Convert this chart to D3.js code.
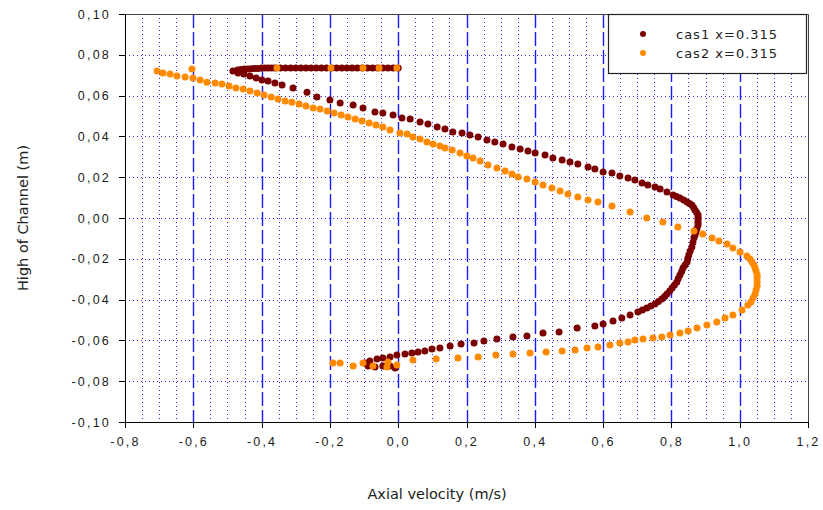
<!DOCTYPE html>
<meta charset="utf-8">
<style>
body { margin: 0; background: #fff; }
svg { display: block; font-family: "DejaVu Sans", sans-serif; }
.tick text { fill: #1a1a1a; font-size: 12.5px; letter-spacing: 2.2px; }
.axis path, .axis line { stroke: #000; shape-rendering: crispEdges; }
</style>
<body>
<script src="https://d3js.org/d3.v7.min.js"></script>
<script>

// tick values of both axes
var xTicks = [-0.8, -0.6, -0.4, -0.2, 0.0, 0.2, 0.4, 0.6, 0.8, 1.0, 1.2];
var yTicks = [-0.10, -0.08, -0.06, -0.04, -0.02, 0.00, 0.02, 0.04, 0.06, 0.08, 0.10];
// dotted minor vertical grid (every 0.05 between the majors)
var xMinor = [-0.75, -0.7, -0.65, -0.55, -0.5, -0.45, -0.35, -0.3, -0.25, -0.15, -0.1, -0.05,
              0.05, 0.1, 0.15, 0.25, 0.3, 0.35, 0.45, 0.5, 0.55, 0.65, 0.7, 0.75,
              0.85, 0.9, 0.95, 1.05, 1.1, 1.15];

var seriesNames = ["cas1 x=0.315", "cas2 x=0.315"];

// cas1 : [axial velocity (m/s), height (m)]
var cas1 = [
  [0.000, 0.0735], [-0.015, 0.0735], [-0.030, 0.0735], [-0.045, 0.0735], [-0.060, 0.0735],
  [-0.075, 0.0735], [-0.090, 0.0735], [-0.105, 0.0735], [-0.120, 0.0735], [-0.135, 0.0735],
  [-0.150, 0.0735], [-0.165, 0.0735], [-0.180, 0.0735], [-0.195, 0.0735], [-0.210, 0.0735],
  [-0.225, 0.0735], [-0.240, 0.0735], [-0.255, 0.0735], [-0.270, 0.0735], [-0.285, 0.0735],
  [-0.300, 0.0735], [-0.315, 0.0735], [-0.330, 0.0735], [-0.345, 0.0735], [-0.360, 0.0735],
  [-0.370, 0.0735], [-0.380, 0.0735], [-0.390, 0.0735], [-0.400, 0.0735], [-0.410, 0.0733],
  [-0.420, 0.0733], [-0.430, 0.0732], [-0.440, 0.0731], [-0.450, 0.0730], [-0.460, 0.0728],
  [-0.470, 0.0726], [-0.484, 0.0720], [-0.469, 0.0711], [-0.452, 0.0706], [-0.434, 0.0696],
  [-0.416, 0.0686], [-0.399, 0.0676], [-0.381, 0.0671], [-0.361, 0.0662], [-0.340, 0.0652],
  [-0.308, 0.0637], [-0.267, 0.0617], [-0.238, 0.0593], [-0.200, 0.0578], [-0.170, 0.0564],
  [-0.132, 0.0554], [-0.103, 0.0539], [-0.068, 0.0519], [-0.045, 0.0515], [-0.015, 0.0505],
  [0.011, 0.0490], [0.035, 0.0485], [0.064, 0.0470], [0.087, 0.0461], [0.114, 0.0446],
  [0.137, 0.0436], [0.160, 0.0421], [0.187, 0.0417], [0.210, 0.0407], [0.234, 0.0397],
  [0.260, 0.0382], [0.283, 0.0372], [0.307, 0.0363], [0.333, 0.0348], [0.357, 0.0338],
  [0.380, 0.0328], [0.401, 0.0319], [0.430, 0.0309], [0.453, 0.0294], [0.480, 0.0284],
  [0.503, 0.0274], [0.526, 0.0265], [0.556, 0.0250], [0.576, 0.0240], [0.600, 0.0225],
  [0.626, 0.0221], [0.649, 0.0206], [0.673, 0.0196], [0.693, 0.0186], [0.714, 0.0172],
  [0.731, 0.0162], [0.752, 0.0152], [0.767, 0.0142], [0.787, 0.0127], [0.805, 0.0113],
  [0.815, 0.0106], [0.825, 0.0098], [0.836, 0.0088], [0.846, 0.0078], [0.853, 0.0071],
  [0.860, 0.0064], [0.865, 0.0052], [0.869, 0.0039], [0.874, 0.0027], [0.878, 0.0015],
  [0.878, 0.0003], [0.878, -0.0010], [0.878, -0.0022], [0.878, -0.0034], [0.875, -0.0052],
  [0.872, -0.0069], [0.869, -0.0084], [0.866, -0.0098], [0.863, -0.0120], [0.860, -0.0142],
  [0.855, -0.0162], [0.851, -0.0181], [0.848, -0.0199], [0.846, -0.0216], [0.840, -0.0231],
  [0.834, -0.0245], [0.830, -0.0262], [0.825, -0.0279], [0.820, -0.0297], [0.816, -0.0314],
  [0.809, -0.0329], [0.802, -0.0343], [0.795, -0.0358], [0.787, -0.0372], [0.780, -0.0385],
  [0.772, -0.0397], [0.762, -0.0409], [0.752, -0.0421], [0.740, -0.0431], [0.728, -0.0441],
  [0.715, -0.0451], [0.702, -0.0461], [0.679, -0.0475], [0.655, -0.0490], [0.629, -0.0505],
  [0.600, -0.0520], [0.576, -0.0529], [0.524, -0.0539], [0.471, -0.0559], [0.424, -0.0564],
  [0.377, -0.0578], [0.336, -0.0583], [0.289, -0.0593], [0.251, -0.0603], [0.222, -0.0613],
  [0.184, -0.0618], [0.152, -0.0627], [0.122, -0.0637], [0.099, -0.0642], [0.078, -0.0652],
  [0.058, -0.0657], [0.040, -0.0662], [0.020, -0.0667], [-0.004, -0.0672], [-0.024, -0.0681],
  [-0.045, -0.0686], [-0.062, -0.0691], [-0.083, -0.0701], [-0.097, -0.0711], [-0.088, -0.0725],
  [-0.068, -0.0730], [-0.045, -0.0725], [-0.024, -0.0725], [-0.009, -0.0735]
];

// cas2 : [axial velocity (m/s), height (m)]
var cas2 = [
  [-0.604, 0.0730], [-0.355, 0.0735], [-0.197, 0.0735], [-0.103, 0.0735], [-0.056, 0.0735],
  [-0.004, 0.0735],
  [-0.706, 0.0720], [-0.689, 0.0711], [-0.668, 0.0706], [-0.648, 0.0696], [-0.624, 0.0691],
  [-0.601, 0.0686], [-0.580, 0.0676], [-0.560, 0.0666], [-0.536, 0.0662], [-0.516, 0.0657],
  [-0.495, 0.0647], [-0.475, 0.0637], [-0.454, 0.0632], [-0.434, 0.0622], [-0.413, 0.0613],
  [-0.393, 0.0603], [-0.372, 0.0593], [-0.352, 0.0583], [-0.331, 0.0573], [-0.311, 0.0568],
  [-0.290, 0.0559], [-0.270, 0.0549], [-0.249, 0.0539], [-0.229, 0.0534], [-0.208, 0.0524],
  [-0.188, 0.0515], [-0.167, 0.0505], [-0.147, 0.0495], [-0.126, 0.0485], [-0.106, 0.0475],
  [-0.085, 0.0466], [-0.065, 0.0456], [-0.045, 0.0446], [-0.024, 0.0431], [0.005, 0.0417],
  [0.026, 0.0412], [0.043, 0.0397], [0.064, 0.0387], [0.084, 0.0372], [0.102, 0.0363],
  [0.122, 0.0353], [0.137, 0.0343], [0.158, 0.0333], [0.181, 0.0319], [0.201, 0.0304],
  [0.219, 0.0294], [0.240, 0.0279], [0.263, 0.0260], [0.289, 0.0245], [0.313, 0.0230],
  [0.333, 0.0216], [0.351, 0.0201], [0.377, 0.0191], [0.401, 0.0176], [0.424, 0.0162],
  [0.450, 0.0147], [0.474, 0.0132], [0.497, 0.0118], [0.526, 0.0103], [0.556, 0.0088],
  [0.585, 0.0078], [0.626, 0.0059], [0.679, 0.0029], [0.728, 0.0000], [0.775, -0.0020],
  [0.819, -0.0044], [0.866, -0.0064], [0.892, -0.0078], [0.919, -0.0098], [0.939, -0.0113],
  [0.963, -0.0127], [0.980, -0.0147], [1.001, -0.0167], [1.021, -0.0186], [1.030, -0.0201],
  [1.036, -0.0216], [1.042, -0.0230], [1.045, -0.0245], [1.048, -0.0260], [1.051, -0.0279],
  [1.051, -0.0294], [1.051, -0.0314], [1.051, -0.0333], [1.048, -0.0353], [1.045, -0.0372],
  [1.039, -0.0392], [1.033, -0.0412], [1.024, -0.0426], [1.007, -0.0451], [0.980, -0.0475],
  [0.957, -0.0490], [0.933, -0.0510], [0.904, -0.0524], [0.875, -0.0539], [0.849, -0.0554],
  [0.825, -0.0564], [0.796, -0.0573], [0.772, -0.0583], [0.746, -0.0588], [0.717, -0.0593],
  [0.693, -0.0598], [0.673, -0.0608], [0.649, -0.0613], [0.620, -0.0622], [0.585, -0.0632],
  [0.553, -0.0637], [0.518, -0.0647], [0.480, -0.0652], [0.433, -0.0657], [0.386, -0.0662],
  [0.336, -0.0667], [0.286, -0.0672], [0.234, -0.0681], [0.175, -0.0686], [0.111, -0.0691],
  [0.043, -0.0696], [-0.004, -0.0720], [-0.030, -0.0706], [-0.033, -0.0730], [-0.074, -0.0725],
  [-0.103, -0.0711], [-0.132, -0.0725], [-0.170, -0.0711], [-0.191, -0.0711]
];

var colors = ["#7b0000", "#ff8a00"];

var width = 823, height = 510;
var plot = {left: 125, right: 808, top: 14, bottom: 422};

var svg = d3.select("body").append("svg")
    .attr("width", width)
    .attr("height", height);

var x = d3.scaleLinear().domain([-0.8, 1.2]).range([plot.left, plot.right]);
var y = d3.scaleLinear().domain([-0.1, 0.1]).range([plot.bottom, plot.top]);

// comma decimals, plain hyphen minus
var locale = d3.formatLocale({decimal: ",", thousands: ".", grouping: [3], currency: ["", ""], minus: "-"});

// grid
var grid = svg.append("g");
grid.selectAll(".minorx").data(xMinor).enter().append("line")
    .attr("x1", function(d) { return Math.round(x(d)) + 0.5; })
    .attr("x2", function(d) { return Math.round(x(d)) + 0.5; })
    .attr("y1", plot.top).attr("y2", plot.bottom)
    .attr("stroke", "#2b2bff").attr("stroke-width", 1)
    .attr("stroke-dasharray", "1,3");
grid.selectAll(".gridy").data(yTicks.slice(1, -1)).enter().append("line")
    .attr("x1", plot.left).attr("x2", plot.right)
    .attr("y1", function(d) { return Math.round(y(d)) + 0.5; })
    .attr("y2", function(d) { return Math.round(y(d)) + 0.5; })
    .attr("stroke", "#2b2bff").attr("stroke-width", 1)
    .attr("stroke-dasharray", "1,3");
grid.selectAll(".majorx").data(xTicks.slice(1, -1)).enter().append("line")
    .attr("x1", function(d) { return Math.round(x(d)) + 0.5; })
    .attr("x2", function(d) { return Math.round(x(d)) + 0.5; })
    .attr("y1", plot.top).attr("y2", plot.bottom)
    .attr("stroke", "#1a1aff").attr("stroke-width", 1.4)
    .attr("stroke-dasharray", "14,4");

// frame top / right
svg.append("path")
    .attr("d", "M" + plot.left + "," + (plot.top + 0.5) + "H" + (plot.right + 0.5) + "V" + plot.bottom)
    .attr("fill", "none").attr("stroke", "#444").attr("stroke-width", 1);

// points
var series = [cas1, cas2];
series.forEach(function(s, i) {
  svg.append("g").selectAll("circle").data(s).enter().append("circle")
     .attr("cx", function(d) { return x(d[0]); })
     .attr("cy", function(d) { return y(d[1]); })
     .attr("r", 3.5)
     .attr("fill", colors[i]);
});

// axes
var xAxis = d3.axisBottom(x).tickValues(xTicks).tickSize(6).tickPadding(9)
    .tickFormat(locale.format(".1f"));
var yAxis = d3.axisLeft(y).tickValues(yTicks).tickSize(6).tickPadding(8)
    .tickFormat(locale.format(".2f"));

svg.append("g").attr("class", "axis")
   .attr("transform", "translate(0," + plot.bottom + ")")
   .call(xAxis)
   .call(function(g) { g.select(".domain").attr("d", "M" + (plot.left - 3) + ",0.5H" + plot.right); });

svg.append("g").attr("class", "axis")
   .attr("transform", "translate(" + plot.left + ",0)")
   .call(yAxis)
   .call(function(g) { g.select(".domain").attr("d", "M0.5," + plot.top + "V" + (plot.bottom + 2)); });

// axis titles
svg.append("text")
   .attr("x", 437).attr("y", 499)
   .attr("text-anchor", "middle")
   .attr("font-size", "14.5px").attr("fill", "#222")
   .text("Axial velocity (m/s)");

svg.append("text")
   .attr("transform", "translate(28,218) rotate(-90)")
   .attr("text-anchor", "middle")
   .attr("font-size", "14.5px").attr("fill", "#222")
   .text("High of Channel (m)");

// legend
var legend = svg.append("g");
legend.append("rect")
   .attr("x", 608.5).attr("y", 14.5).attr("width", 198).attr("height", 59)
   .attr("fill", "#fff").attr("stroke", "#222").attr("stroke-width", 1.2);
seriesNames.forEach(function(name, i) {
  legend.append("circle")
     .attr("cx", 643).attr("cy", 34 + i * 19).attr("r", 3)
     .attr("fill", colors[i]);
  legend.append("text")
     .attr("x", 676).attr("y", 39 + i * 19)
     .attr("font-size", "13px").attr("fill", "#222")
     .attr("letter-spacing", "1px")
     .text(name);
});

</script>
</body>
